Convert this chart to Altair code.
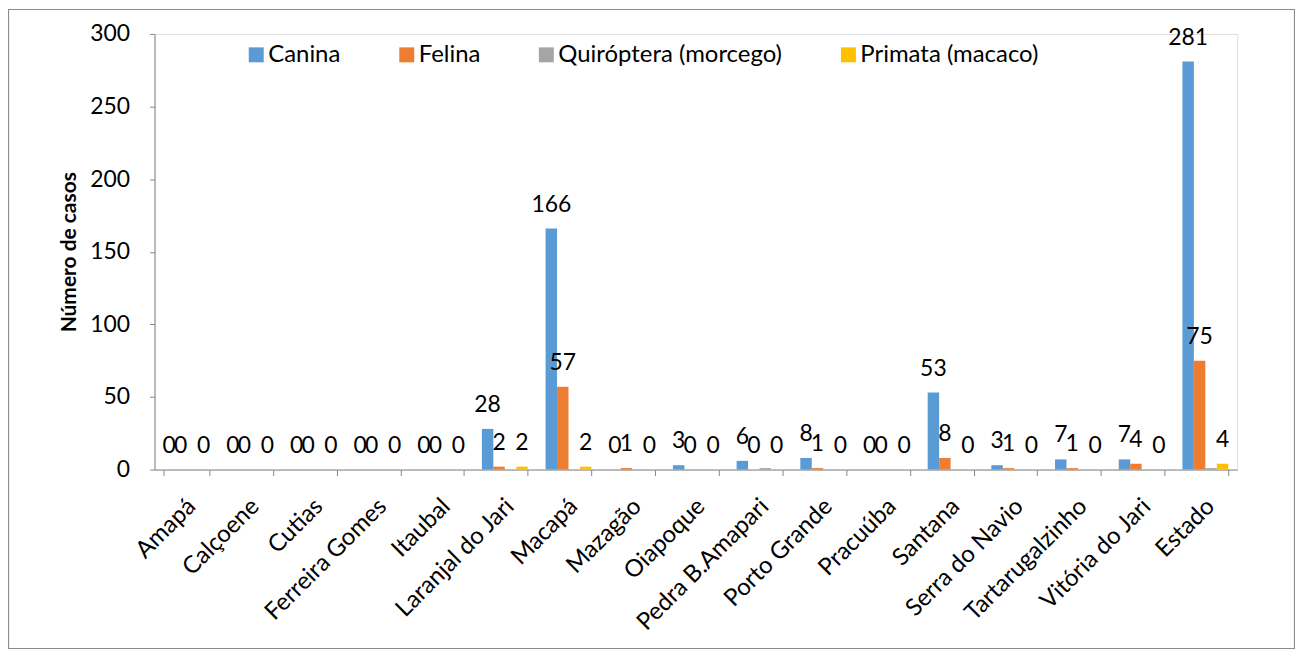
import altair as alt
import pandas as pd

municipios = ["Amapá", "Calçoene", "Cutias", "Ferreira Gomes", "Itaubal",
              "Laranjal do Jari", "Macapá", "Mazagão", "Oiapoque", "Pedra B.Amapari",
              "Porto Grande", "Pracuúba", "Santana", "Serra do Navio",
              "Tartarugalzinho", "Vitória do Jari", "Estado"]
series = ["Canina", "Felina", "Quiróptera (morcego)", "Primata (macaco)"]
colors = ["#5B9BD5", "#ED7D31", "#A5A5A5", "#FFC000"]

canina = [0, 0, 0, 0, 0, 28, 166, 0, 3, 6, 8, 0, 53, 3, 7, 7, 281]
felina = [0, 0, 0, 0, 0, 2, 57, 1, 0, 0, 1, 0, 8, 1, 1, 4, 75]
quiroptera = [0, 0, 0, 0, 0, 0, 0, 0, 0, 1, 0, 0, 0, 0, 0, 0, 1]
primata = [0, 0, 0, 0, 0, 2, 2, 0, 0, 0, 0, 0, 0, 0, 0, 0, 4]
labelled = [True, True, False, True]

rows = []
for s, vals, lab in zip(series, [canina, felina, quiroptera, primata], labelled):
    for m, v in zip(municipios, vals):
        rows.append({"Município": m, "Espécie": s, "Casos": v, "lab": lab})
df = pd.DataFrame(rows)

FONT = "Lato"
W, H = 1086, 437

x_enc = alt.X("Município:N", sort=municipios, title=None,
              scale=alt.Scale(paddingInner=0.28, paddingOuter=0.14),
              axis=alt.Axis(labelAngle=-45, labelAlign="right", labelBaseline="middle",
                            labelFontSize=24, labelPadding=27, labelOffset=5, tickSize=6,
                            labelLimit=400,
                            tickBand="extent", domainColor="#898989", tickColor="#898989",
                            labelColor="#000000", labelFont=FONT))
xoff = alt.XOffset("Espécie:N", sort=series)
y_enc = alt.Y("Casos:Q", title="Número de casos",
              scale=alt.Scale(domain=[0, 300], nice=False),
              axis=alt.Axis(values=[0, 50, 100, 150, 200, 250, 300], grid=False,
                            tickSize=5, labelPadding=20, labelFontSize=23, labelFont=FONT,
                            labelColor="#000000", domainColor="#898989", tickColor="#898989",
                            titleFont=FONT, titleFontSize=21, titleFontWeight="bold",
                            titleColor="#000000", titleX=-85, titleY=H / 2,
                            titleAngle=270, titleAlign="center", titleBaseline="middle"))

bars = alt.Chart(df).mark_bar().encode(
    x=x_enc, xOffset=xoff, y=y_enc,
    color=alt.Color("Espécie:N", sort=series,
                    scale=alt.Scale(domain=series, range=colors),
                    legend=alt.Legend(title=None, orient="none", direction="horizontal",
                                      legendX=90, legendY=9, symbolType="square",
                                      symbolSize=225, symbolStrokeWidth=0,
                                      labelFont=FONT, labelFontSize=24, labelColor="#000000",
                                      labelLimit=400, labelOffset=0, columnPadding=54))
)

labels = alt.Chart(df).transform_filter("datum.lab").mark_text(
    font=FONT, fontSize=23, color="#000000", baseline="alphabetic", dy=-17
).encode(x=x_enc, xOffset=xoff, y=y_enc, text="Casos:Q")

frame = alt.Chart(pd.DataFrame({"a": [0]})).mark_rect(
    fill=None, stroke="#8C8C8C", strokeWidth=1.2
).encode(x=alt.value(-146.5), x2=alt.value(W + 57.5), y=alt.value(-24.5), y2=alt.value(H + 179.5))

chart = alt.layer(frame, bars, labels).properties(
    width=W, height=H,
    autosize=alt.AutoSizeParams(type="none"),
    padding={"left": 147, "top": 25, "right": 58, "bottom": 180}
).configure_view(stroke=None).configure(background="white")

chart.save("out.html", embed_options={"renderer": "svg", "actions": False})
